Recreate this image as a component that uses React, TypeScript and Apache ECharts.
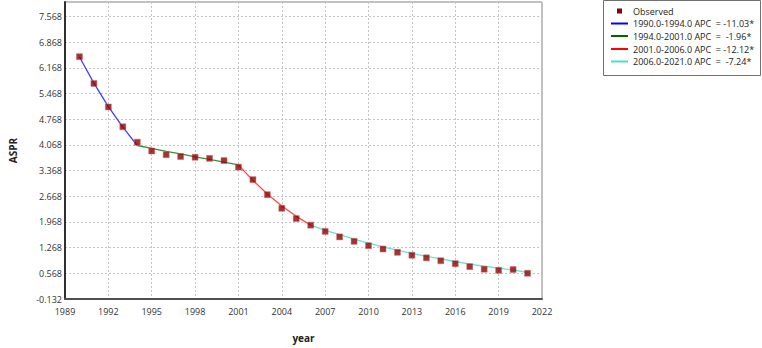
import React, { useEffect, useRef } from "react";
import * as echarts from "echarts";

const years = [1990, 1991, 1992, 1993, 1994, 1995, 1996, 1997, 1998, 1999, 2000, 2001, 2002, 2003, 2004, 2005, 2006, 2007, 2008, 2009, 2010, 2011, 2012, 2013, 2014, 2015, 2016, 2017, 2018, 2019, 2020, 2021];
const observed = [6.47, 5.74, 5.10, 4.56, 4.14, 3.90, 3.80, 3.75, 3.73, 3.70, 3.64, 3.46, 3.12, 2.71, 2.34, 2.06, 1.88, 1.71, 1.56, 1.44, 1.32, 1.23, 1.14, 1.06, 0.99, 0.91, 0.83, 0.75, 0.68, 0.65, 0.67, 0.57];

const seg1Years = [1990, 1991, 1992, 1993, 1994];
const seg1Fit = [6.46, 5.75, 5.11, 4.55, 4.05];
const seg2Years = [1994, 1995, 1996, 1997, 1998, 1999, 2000, 2001];
const seg2Fit = [4.05, 3.97, 3.89, 3.82, 3.74, 3.67, 3.60, 3.52];
const seg3Years = [2001, 2002, 2003, 2004, 2005, 2006];
const seg3Fit = [3.52, 3.10, 2.73, 2.40, 2.12, 1.88];
const seg4Years = [2006, 2007, 2008, 2009, 2010, 2011, 2012, 2013, 2014, 2015, 2016, 2017, 2018, 2019, 2020, 2021];
const seg4Fit = [1.88, 1.74, 1.62, 1.50, 1.39, 1.29, 1.20, 1.11, 1.03, 0.96, 0.89, 0.82, 0.76, 0.71, 0.66, 0.59];

const legendLabels = [
  "1990.0-1994.0 APC  = -11.03*",
  "1994.0-2001.0 APC  =  -1.96*",
  "2001.0-2006.0 APC  = -12.12*",
  "2006.0-2021.0 APC  =  -7.24*",
];
const legendColors = ["#0000ff", "#006400", "#ff0000", "#40e0d0"];
const plotColors = ["#4040ff", "#3a8f3a", "#ff4a4a", "#5fe6da"];

const yTicks = ["-0.132", "0.568", "1.268", "1.968", "2.668", "3.368", "4.068", "4.768", "5.468", "6.168", "6.868", "7.568"];

const FONT = "'Open Sans', 'Noto Sans', sans-serif";

function pairs(xs: number[], ys: number[]) {
  return xs.map((x, i) => [x, ys[i]]);
}

export default function App() {
  const ref = useRef<HTMLDivElement>(null);
  useEffect(() => {
    document.body.style.margin = "0";
    const chart = echarts.init(ref.current!, null, { renderer: "svg" });
    const segYears = [seg1Years, seg2Years, seg3Years, seg4Years];
    const segFits = [seg1Fit, seg2Fit, seg3Fit, seg4Fit];
    const legendY = [23.5, 36, 49, 61.5];
    const graphics: any[] = [
      {
        type: "rect",
        shape: { x: 603.5, y: 0.5, width: 157, height: 75 },
        style: { fill: "#fff", stroke: "#707070", lineWidth: 1 },
      },
      {
        type: "rect",
        shape: { x: 617, y: 8.5, width: 5, height: 5 },
        style: { fill: "#8b0000" },
      },
      {
        type: "text",
        x: 633,
        y: 11,
        style: { text: "Observed", fill: "#222", font: `9px ${FONT}`, textVerticalAlign: "middle" },
      },
    ];
    legendLabels.forEach((label, i) => {
      graphics.push({
        type: "line",
        shape: { x1: 611, y1: legendY[i], x2: 628, y2: legendY[i] },
        style: { stroke: legendColors[i], lineWidth: 2 },
      });
      graphics.push({
        type: "text",
        x: 633,
        y: legendY[i],
        style: { text: label, fill: "#222", font: `9px ${FONT}`, textVerticalAlign: "middle" },
      });
    });

    const option: any = {
      animation: false,
      backgroundColor: "#fff",
      grid: {
        left: 57,
        top: 2,
        right: 220,
        bottom: 39,
        show: true,
        borderColor: "#808080",
        borderWidth: 1,
        backgroundColor: "#fff",
      },
      xAxis: {
        type: "value",
        min: 1989,
        max: 2022,
        interval: 3,
        name: "year",
        nameLocation: "middle",
        nameGap: 34,
        nameTextStyle: { fontFamily: FONT, fontSize: 10, fontWeight: "bold", color: "#222" },
        axisLine: { show: true, onZero: false, lineStyle: { color: "#505050", width: 2 } },
        axisTick: { show: false },
        axisLabel: { fontFamily: FONT, fontSize: 9, color: "#333", margin: 8, formatter: (v: number) => String(v) },
        splitLine: { show: true, lineStyle: { color: "#c4c4c4", type: [2, 2], width: 1 } },
      },
      yAxis: {
        type: "value",
        min: -0.132,
        max: 7.96,
        interval: 0.7,
        name: "ASPR",
        nameLocation: "middle",
        nameRotate: 90,
        nameGap: 47,
        nameTextStyle: { fontFamily: FONT, fontSize: 10, fontWeight: "bold", color: "#222" },
        axisLine: { show: true, onZero: false, lineStyle: { color: "#303030", width: 2 } },
        axisTick: { show: false },
        axisLabel: {
          fontFamily: FONT,
          fontSize: 9,
          color: "#333",
          margin: 3,
          showMaxLabel: false,
          formatter: (v: number) => {
            const s = v.toFixed(3);
            return yTicks.indexOf(s) >= 0 ? s : "";
          },
        },
        splitLine: { show: true, lineStyle: { color: "#c4c4c4", type: [2, 2], width: 1 } },
      },
      series: [
        ...segFits.map((fit, i) => ({
          type: "line",
          name: legendLabels[i],
          data: pairs(segYears[i], fit),
          showSymbol: false,
          symbol: "none",
          lineStyle: { color: plotColors[i], width: 1.3 },
          z: 2,
        })),
        {
          type: "scatter",
          name: "Observed",
          data: pairs(years, observed),
          symbol: "rect",
          symbolSize: 6,
          itemStyle: { color: "#8f0000", borderColor: "#c86a6a", borderWidth: 0.6 },
          z: 3,
        },
      ],
      graphic: graphics,
    };
    chart.setOption(option);
    return () => chart.dispose();
  }, []);
  return <div ref={ref} style={{ width: 762, height: 348 }} />;
}
